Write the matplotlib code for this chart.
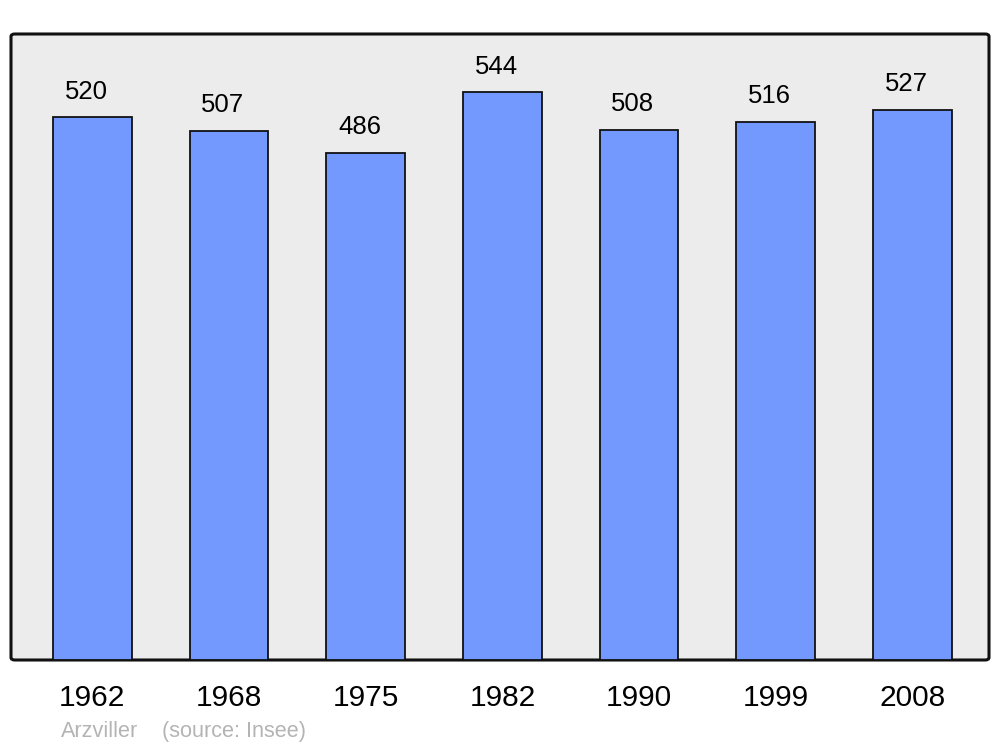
import matplotlib
matplotlib.use("Agg")
import matplotlib.pyplot as plt
from matplotlib.patches import FancyBboxPatch

# Données
years = ["1962", "1968", "1975", "1982", "1990", "1999", "2008"]
population = [520, 507, 486, 544, 508, 516, 527]
commune = "Arzviller"
source = "(source: Insee)"

plt.rcParams["font.family"] = ["Liberation Sans", "DejaVu Sans"]

fig = plt.figure(figsize=(10, 7.47), dpi=100)
ax = fig.add_axes([11 / 1000, 87 / 747, 978 / 1000, 626 / 747])
ax.set_facecolor("none")

# fond gris arrondi
bg = FancyBboxPatch((0, 0), 1, 1, boxstyle="round,pad=0,rounding_size=0.004",
                    transform=ax.transAxes, facecolor="#ececec",
                    edgecolor="#111111", linewidth=2.2, zorder=0, clip_on=False)
ax.add_patch(bg)

x = list(range(len(years)))
bars = ax.bar(x, population, width=0.575, color="#7399ff",
              edgecolor="#111111", linewidth=1.3, zorder=2)

for xi, v in zip(x, population):
    ax.annotate(str(v), (xi, v), xytext=(-4.5, 13.5), textcoords="offset points",
                ha="center", va="baseline", fontsize=18.5, color="black")

ax.set_xlim(-0.595, 6.56)
ax.set_ylim(0, 600)
ax.set_xticks(x)
ax.set_xticklabels(years, fontsize=21.5)
ax.tick_params(axis="x", length=0, pad=17)
ax.set_yticks([])
for s in ax.spines.values():
    s.set_visible(False)

fig.text(61 / 1000, 1 - 737 / 747, commune, fontsize=15.6, color="#b4b4b4",
         ha="left", va="baseline")
fig.text(162 / 1000, 1 - 737 / 747, source, fontsize=15.6, color="#b4b4b4",
         ha="left", va="baseline")

fig.savefig("out.png", dpi=100)
